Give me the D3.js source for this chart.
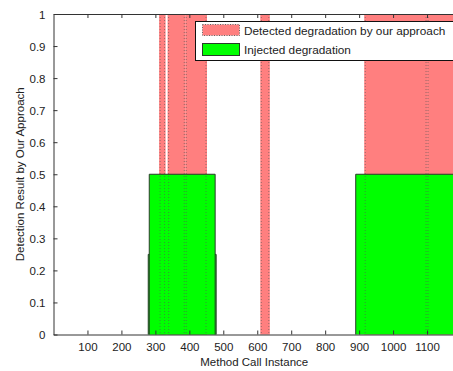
<!DOCTYPE html>
<html>
<head>
<meta charset="utf-8">
<script src="https://cdn.jsdelivr.net/npm/d3@7/dist/d3.min.js"></script>
<style>
  html, body { margin: 0; padding: 0; background: #fff; }
  svg { display: block; overflow: hidden; }
  text { font-family: "Liberation Sans", Arial, sans-serif; fill: #222; }
</style>
</head>
<body>
<script>
// Detected degradation intervals (method call instance ranges) and their result
const detectedStart = [311, 336, 388, 609, 915, 1100];
const detectedEnd   = [330, 388, 452, 637, 1100, 1200];
const detectedValue = [1, 1, 1, 1, 1, 1];

// Injected degradation intervals
const injectedStart = [279, 282, 890];
const injectedEnd   = [479, 476, 1200];
const injectedValue = [0.25, 0.5, 0.5];

const xTicks = [100, 200, 300, 400, 500, 600, 700, 800, 900, 1000, 1100];
const yTicks = [0, 0.1, 0.2, 0.3, 0.4, 0.5, 0.6, 0.7, 0.8, 0.9, 1];

const legendLabels = ["Detected degradation by our approach", "Injected degradation"];

const W = 453, H = 371;
const margin = { left: 53.5, top: 14, bottom: 334.5 };
const plotRight = 461;

const svg = d3.select("body").append("svg").attr("width", W).attr("height", H);

const x = d3.scaleLinear().domain([0, 1200]).range([margin.left, plotRight]);
const y = d3.scaleLinear().domain([0, 1]).range([margin.bottom, margin.top]);

const detected = detectedStart.map((s, i) => ({ s, e: detectedEnd[i], v: detectedValue[i] }));
const injected = injectedStart.map((s, i) => ({ s, e: injectedEnd[i], v: injectedValue[i] }));

const RED = "#ff7f7f", GREEN = "#00ff00";

// Detected fills
svg.append("g").selectAll("rect").data(detected).join("rect")
  .attr("x", d => x(d.s)).attr("width", d => x(d.e) - x(d.s))
  .attr("y", d => y(d.v)).attr("height", d => y(0) - y(d.v))
  .attr("fill", RED);

// Injected bars: fill plus an open outline (left, top, right)
const ig = svg.append("g").selectAll("g").data(injected).join("g");
ig.append("rect")
  .attr("x", d => x(d.s)).attr("width", d => x(d.e) - x(d.s))
  .attr("y", d => y(d.v)).attr("height", d => y(0) - y(d.v))
  .attr("fill", GREEN);
ig.append("path")
  .attr("d", d => `M${x(d.s)},${y(0)}V${y(d.v)}H${x(d.e)}V${y(0)}`)
  .attr("fill", "none").attr("stroke", "#2b3a2b").attr("stroke-width", 1);

// Dotted edges of detected bars, drawn on top
const edges = [];
detected.forEach(d => { edges.push({ px: x(d.s) + 1, v: d.v }); edges.push({ px: x(d.e) - 1, v: d.v }); });
svg.append("g").selectAll("line").data(edges).join("line")
  .attr("x1", d => d.px).attr("x2", d => d.px)
  .attr("y1", d => y(d.v)).attr("y2", y(0))
  .attr("stroke", "#555").attr("stroke-opacity", 0.6)
  .attr("stroke-width", 1).attr("stroke-dasharray", "1,2");

// Axes (ticks pointing inward, box line on top)
const axisColor = "#333";
const bottomAxis = svg.append("g").attr("transform", `translate(0,${margin.bottom})`)
  .call(d3.axisBottom(x).tickValues(xTicks).tickSizeInner(-4).tickSizeOuter(0).tickPadding(8)
    .tickFormat(d3.format("d")));
const topAxis = svg.append("g").attr("transform", `translate(0,${margin.top})`)
  .call(d3.axisTop(x).tickValues(xTicks).tickSizeInner(-4).tickSizeOuter(0).tickFormat(""));
const leftAxis = svg.append("g").attr("transform", `translate(${margin.left},0)`)
  .call(d3.axisLeft(y).tickValues(yTicks).tickSizeInner(-4).tickSizeOuter(0).tickPadding(8)
    .tickFormat(d => String(+d.toFixed(1))));

[bottomAxis, topAxis, leftAxis].forEach(g => {
  g.select(".domain").attr("stroke", axisColor).attr("stroke-width", 1);
  g.selectAll(".tick line").attr("stroke", axisColor);
  g.selectAll(".tick text").attr("font-size", 11.5).attr("fill", "#222")
    .attr("font-family", "'Liberation Sans', Arial, sans-serif");
});
bottomAxis.selectAll(".tick text").attr("dy", "0.71em");
leftAxis.selectAll(".tick text").attr("dy", "0.35em");

// Axis titles
svg.append("text").attr("x", x(600) - 3).attr("y", 366)
  .attr("text-anchor", "middle").attr("font-size", 11.5)
  .text("Method Call Instance");
svg.append("text")
  .attr("transform", `translate(24,${(margin.top + margin.bottom) / 2}) rotate(-90)`)
  .attr("text-anchor", "middle").attr("font-size", 11.5)
  .text("Detection Result by Our Approach");

// Legend
const lg = svg.append("g");
lg.append("rect").attr("x", 195.5).attr("y", 21.5).attr("width", 280).attr("height", 39)
  .attr("fill", "#fff").attr("stroke", "#111").attr("stroke-width", 1);
lg.append("rect").attr("x", 202.5).attr("y", 24.5).attr("width", 37).attr("height", 11)
  .attr("fill", RED).attr("stroke", "#666").attr("stroke-dasharray", "1,1.5");
lg.append("rect").attr("x", 202.5).attr("y", 43.5).attr("width", 37).attr("height", 12)
  .attr("fill", GREEN).attr("stroke", "#2b3a2b");
lg.selectAll("text.lab").data(legendLabels).join("text").attr("class", "lab")
  .attr("x", 244).attr("y", (d, i) => 35 + i * 18.5)
  .attr("font-size", 11.8).text(d => d);
</script>
</body>
</html>
